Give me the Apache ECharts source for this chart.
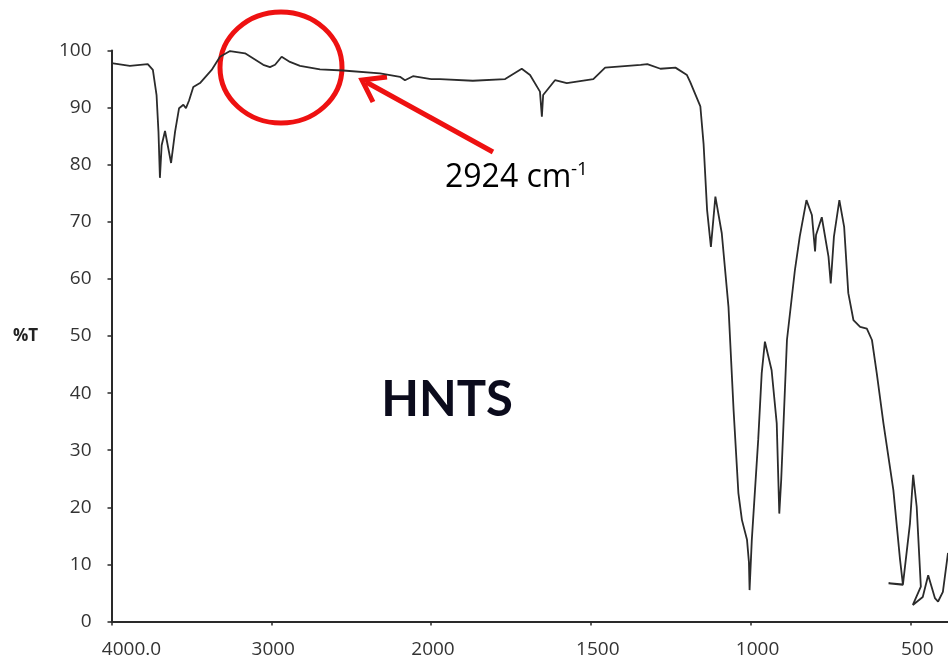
<!DOCTYPE html>
<html>
<head>
<meta charset="utf-8">
<script src="https://cdn.jsdelivr.net/npm/echarts@6/dist/echarts.min.js"></script>
<style>
html,body{margin:0;padding:0;background:#fff;}
#chart{width:948px;height:669px;}
</style>
</head>
<body>
<div id="chart"></div>
<script>
// Wavenumber (cm-1) and %T
const wavenumbers = [
  4000, 3885, 3773, 3741, 3718, 3706, 3697, 3686, 3665, 3627, 3602, 3577, 3550, 3534, 3515, 3488, 3446, 3373, 3321, 3258,
  3164, 3050, 3008, 2976, 2935, 2883, 2820, 2695, 2551, 2319, 2194, 2163, 2113, 2000,
  1972, 1869, 1768, 1716, 1690, 1659, 1653, 1649, 1612, 1575, 1492, 1455, 1344, 1323, 1282, 1235, 1199, 1189,
  1157, 1147, 1136, 1124, 1110, 1090, 1069, 1053, 1038, 1027, 1011, 1005, 1003, 996, 976, 965, 955, 934,
  918, 910, 904, 886, 861, 846, 825, 808, 798, 795, 777, 756, 749, 739, 722, 707, 694, 678, 657, 636,
  620, 605, 584, 553, 532, 523, 568, 523, 501, 491, 480, 467, 492, 461, 444, 423, 413, 398, 382
];
const transmittance = [
  97.8, 97.3, 97.6, 96.6, 92.2, 85.8, 77.7, 83.4, 85.9, 80.3, 85.8, 89.9, 90.5, 89.9, 91.2, 93.6, 94.3, 96.6, 98.9, 99.9,
  99.5, 97.5, 97.1, 97.5, 98.9, 98.0, 97.3, 96.7, 96.5, 96.0, 95.4, 94.8, 95.5, 95.0,
  95.0, 94.7, 95.0, 96.8, 95.7, 92.8, 88.4, 92.2, 94.8, 94.3, 95.0, 97.0, 97.5, 97.6, 96.8, 97.0, 95.7, 94.5,
  90.2, 83.7, 72.1, 65.6, 74.4, 68.0, 55.1, 37.0, 22.5, 17.8, 14.3, 10.4, 5.5, 14.3, 31.8, 43.5, 49.0, 44.0,
  34.7, 18.9, 24.8, 49.3, 61.6, 67.4, 73.8, 71.2, 64.8, 67.7, 70.8, 63.9, 59.2, 67.4, 73.8, 69.1, 57.5, 52.8, 51.6, 51.3,
  49.3, 43.5, 34.7, 23.0, 10.8, 6.4, 6.7, 6.5, 17.2, 25.7, 20.1, 6.1, 2.9, 4.3, 8.1, 4.1, 3.5, 5.2, 12.0
];
const highTicks = [4000, 3000, 2000];
const lowTicks = [1500, 1000, 500];
const yTicks = [0, 10, 20, 30, 40, 50, 60, 70, 80, 90, 100];
const annotationText = '2924 cm';
const annotationSup = '-1';
const sampleName = 'HNTS';
const yName = '%T';

const pairs = wavenumbers.map((w, i) => [w, transmittance[i]]);
const highData = pairs.filter(p => p[0] >= 2000);
const lowData = pairs.filter(p => p[0] <= 2000);

const labelFont = {fontFamily: 'Open Sans', fontSize: 19, color: '#333'};
const axisLine = {show: true, lineStyle: {color: '#2a2a2a', width: 2}};

const chart = echarts.init(document.getElementById('chart'));
chart.setOption({
  backgroundColor: '#fff',
  animation: false,
  grid: [
    {left: 111.5, top: 50.5, width: 319.5, bottom: 47.5},
    {left: 431, top: 50.5, right: 0, bottom: 47.5}
  ],
  xAxis: [
    {
      type: 'value', gridIndex: 0, min: 2000, max: 4000, interval: 1000, inverse: true,
      axisLine: axisLine,
      axisTick: {show: true, length: 4, lineStyle: {color: '#2a2a2a', width: 1.5}},
      splitLine: {show: false},
      axisLabel: Object.assign({}, labelFont, {
        margin: 19, showMinLabel: true, showMaxLabel: true,
        formatter: v => v === 4000 ? '{a|4000.0}' : (highTicks.indexOf(v) >= 0 ? '{b|' + v + '}' : ''),
        rich: {
          a: Object.assign({}, labelFont, {padding: [0, 0, 0, 40]}),
          b: Object.assign({}, labelFont, {padding: [0, 0, 0, 4]})
        }
      })
    },
    {
      type: 'value', gridIndex: 1, min: 382, max: 2000, inverse: true,
      axisLine: axisLine,
      axisTick: {show: true, length: 4, customValues: [2000].concat(lowTicks), lineStyle: {color: '#2a2a2a', width: 1.5}},
      splitLine: {show: false},
      axisLabel: Object.assign({}, labelFont, {
        margin: 19, customValues: lowTicks,
        formatter: v => '{b|' + v + '}',
        rich: {b: Object.assign({}, labelFont, {padding: [0, 0, 0, 14]})}
      })
    }
  ],
  yAxis: [
    {
      type: 'value', gridIndex: 0, min: 0, max: 100, interval: 10,
      axisLine: axisLine,
      axisTick: {show: true, length: 4, lineStyle: {color: '#2a2a2a', width: 1.5}},
      splitLine: {show: false},
      axisLabel: Object.assign({}, labelFont, {margin: 20,
        formatter: v => yTicks.indexOf(v) >= 0 ? String(v) : ''})
    },
    {
      type: 'value', gridIndex: 1, min: 0, max: 100, interval: 10, show: false,
      splitLine: {show: false}
    }
  ],
  series: [
    {type: 'line', xAxisIndex: 0, yAxisIndex: 0, data: highData, showSymbol: false,
     lineStyle: {color: '#2b2b2b', width: 1.8}, clip: true},
    {type: 'line', xAxisIndex: 1, yAxisIndex: 1, data: lowData, showSymbol: false,
     lineStyle: {color: '#2b2b2b', width: 1.8}, clip: true}
  ],
  graphic: [
    {type: 'text', left: 13, top: 328, style: {text: yName, font: 'bold 17px "Open Sans"', fill: '#222'}},
    {type: 'text', x: 447, y: 400, style: {text: sampleName, font: 'bold 49px Lato', fill: '#0b0b1c', align: 'center', verticalAlign: 'middle'}},
    {type: 'ellipse', shape: {cx: 281, cy: 67.5, rx: 61, ry: 55.5}, style: {fill: 'none', stroke: '#ee1111', lineWidth: 5}},
    {type: 'line', shape: {x1: 493, y1: 152, x2: 366, y2: 82}, style: {stroke: '#ee1111', lineWidth: 5}},
    {type: 'polyline', shape: {points: [[387, 77], [362, 80], [373, 102]]}, style: {fill: 'none', stroke: '#ee1111', lineWidth: 5, lineJoin: 'miter'}},
    {type: 'text', x: 445, y: 178, style: {text: annotationText, font: '32px "Open Sans"', fill: '#000', verticalAlign: 'middle'}},
    {type: 'text', x: 571, y: 170, style: {text: annotationSup, font: '19px "Open Sans"', fill: '#000', verticalAlign: 'middle'}}
  ]
});
</script>
</body>
</html>
